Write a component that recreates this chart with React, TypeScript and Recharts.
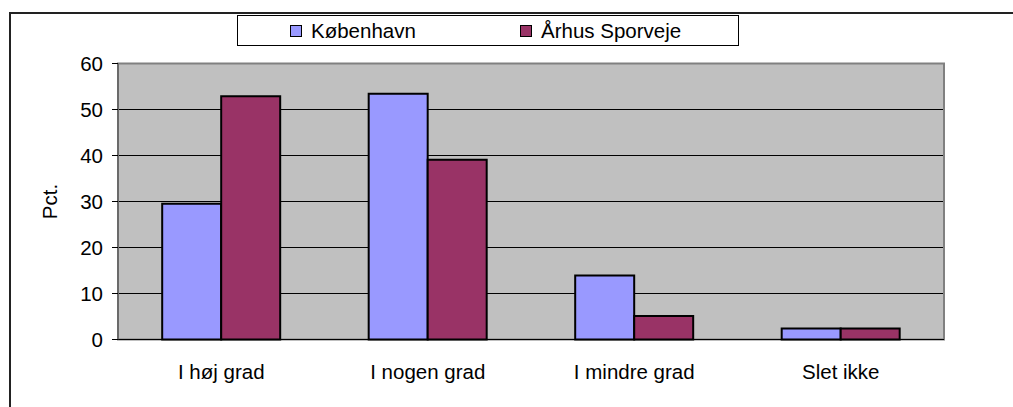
import { Bar, BarChart, CartesianGrid, Label, ReferenceArea, XAxis, YAxis } from 'recharts'

const categories = ['I høj grad', 'I nogen grad', 'I mindre grad', 'Slet ikke']
const kobenhavn = [29.5, 53.4, 13.9, 2.4]
const aarhus = [52.9, 39.1, 5.1, 2.4]
const yTicks = [0, 10, 20, 30, 40, 50, 60]
const edgeTicks = [0, 1, 2, 3, 4]

const series = [
  { key: 'kbh', name: 'København', color: '#9999FF' },
  { key: 'aar', name: 'Århus Sporveje', color: '#993366' },
]

const data = categories.map((name, i) => ({ name, kbh: kobenhavn[i], aar: aarhus[i] }))

const font = 'Liberation Sans, Arial, sans-serif'
const fs = 20.5

function LegendBox() {
  return (
    <div
      style={{
        position: 'absolute',
        left: 237,
        top: 15,
        width: 500,
        height: 29,
        border: '1.5px solid #000',
        background: '#fff',
        fontFamily: font,
        fontSize: fs,
        color: '#000',
      }}
    >
      {series.map((s, i) => (
        <div
          key={s.key}
          style={{
            position: 'absolute',
            left: i === 0 ? 52 : 282,
            top: 0,
            height: 29,
            display: 'flex',
            alignItems: 'center',
          }}
        >
          <span
            style={{
              width: 10,
              height: 10,
              background: s.color,
              border: '1.5px solid #000',
              marginRight: 9,
              display: 'inline-block',
            }}
          />
          {s.name}
        </div>
      ))}
    </div>
  )
}

export default function App() {
  return (
    <div
      style={{
        position: 'absolute',
        left: 0,
        top: 0,
        width: 1013,
        height: 407,
        overflow: 'hidden',
        background: '#fff',
        fontFamily: font,
      }}
    >
      <div
        style={{
          position: 'absolute',
          left: 9,
          top: 12,
          width: 1040,
          height: 440,
          border: '2px solid #222',
        }}
      />
      <div style={{ position: 'absolute', left: 0, top: 0 }}>
        <BarChart
          width={1013}
          height={407}
          data={data}
          margin={{ top: 63.5, right: 69, left: 48, bottom: 27.5 }}
          barCategoryGap="21.4%"
          barGap={0}
        >
          <CartesianGrid vertical={false} stroke="#000" fill="#C0C0C0" fillOpacity={1} />
          <ReferenceArea y1={0} y2={60} xAxisId="cat" fill="none" stroke="#808080" strokeWidth={2} />
          <XAxis
            xAxisId="edges"
            type="number"
            domain={[0, 4]}
            ticks={edgeTicks}
            height={0}
            axisLine={false}
            tickSize={6}
            tickLine={{ stroke: '#000' }}
            tickFormatter={() => ''}
          />
          <XAxis
            xAxisId="cat"
            dataKey="name"
            height={40}
            tickLine={false}
            axisLine={{ stroke: '#000' }}
            tickMargin={19}
            tick={{ fontSize: fs, fill: '#000', fontFamily: font }}
          />
          <YAxis
            width={70}
            domain={[0, 60]}
            ticks={yTicks}
            tickSize={6}
            tickMargin={9}
            axisLine={{ stroke: '#555' }}
            tickLine={{ stroke: '#000' }}
            tick={{ fontSize: fs, fill: '#000', fontFamily: font }}
          >
            <Label
              value="Pct."
              angle={-90}
              position="insideLeft"
              offset={2}
              style={{ fontSize: fs, fill: '#000', fontFamily: font, textAnchor: 'middle' }}
            />
          </YAxis>
          {series.map((s) => (
            <Bar
              key={s.key}
              xAxisId="cat"
              dataKey={s.key}
              name={s.name}
              fill={s.color}
              stroke="#000"
              strokeWidth={2}
              isAnimationActive={false}
            />
          ))}
        </BarChart>
      </div>
      <LegendBox />
    </div>
  )
}
